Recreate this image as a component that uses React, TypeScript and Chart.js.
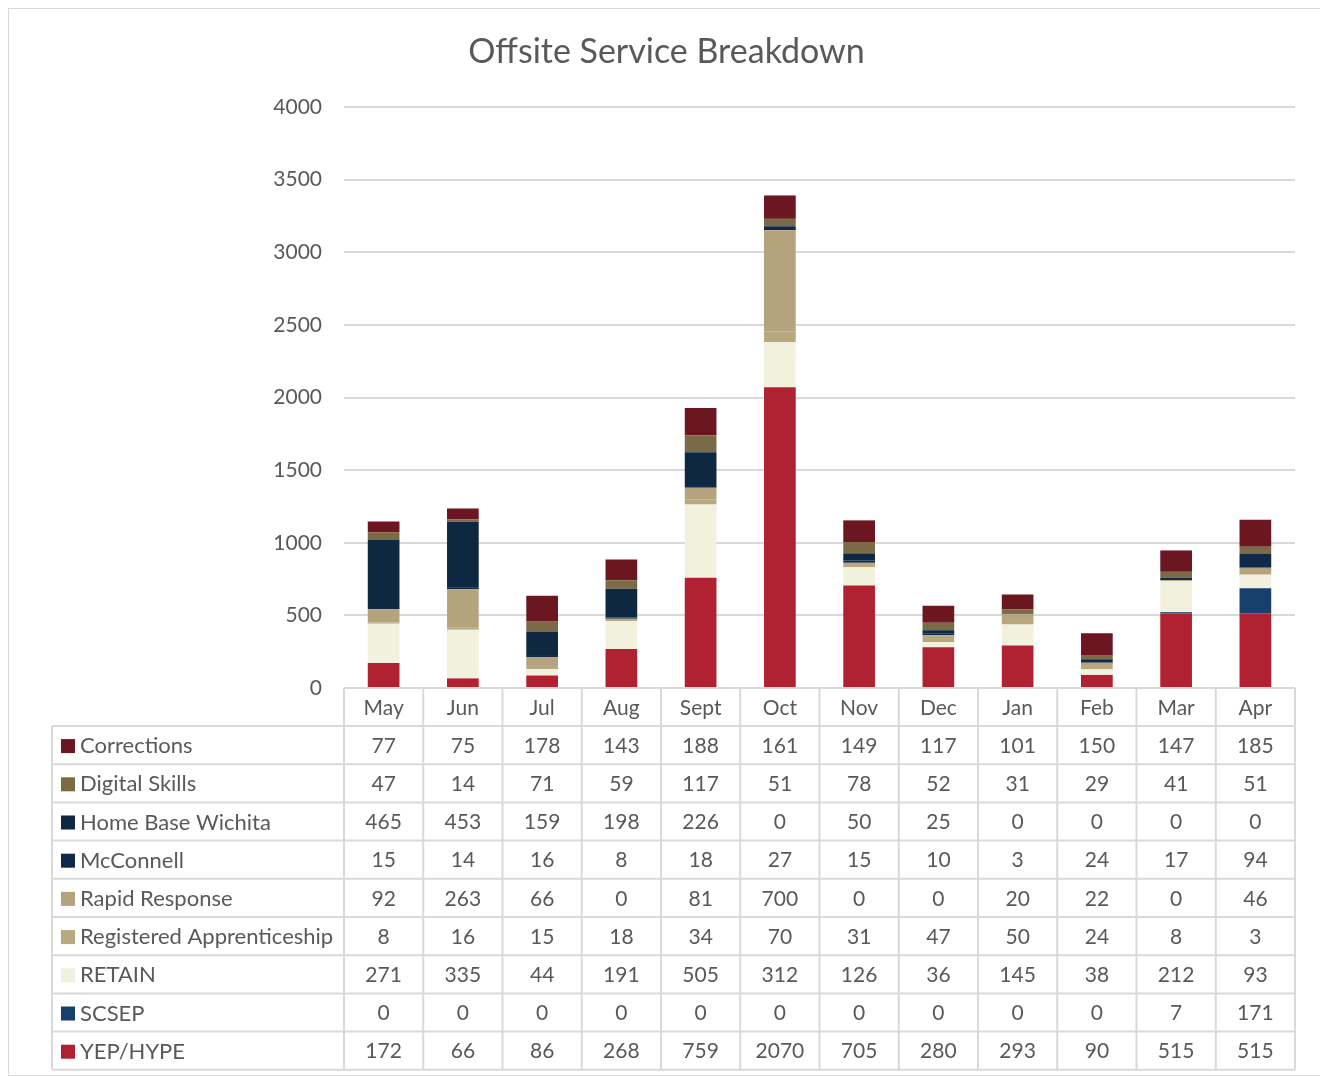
import React, { useEffect, useRef } from "react";
import { Chart, registerables } from "chart.js";

Chart.register(...registerables);

const months = ["May", "Jun", "Jul", "Aug", "Sept", "Oct", "Nov", "Dec", "Jan", "Feb", "Mar", "Apr"];

const corrections = [77, 75, 178, 143, 188, 161, 149, 117, 101, 150, 147, 185];
const digitalSkills = [47, 14, 71, 59, 117, 51, 78, 52, 31, 29, 41, 51];
const homeBaseWichita = [465, 453, 159, 198, 226, 0, 50, 25, 0, 0, 0, 0];
const mcConnell = [15, 14, 16, 8, 18, 27, 15, 10, 3, 24, 17, 94];
const rapidResponse = [92, 263, 66, 0, 81, 700, 0, 0, 20, 22, 0, 46];
const registeredApprenticeship = [8, 16, 15, 18, 34, 70, 31, 47, 50, 24, 8, 3];
const retain = [271, 335, 44, 191, 505, 312, 126, 36, 145, 38, 212, 93];
const scsep = [0, 0, 0, 0, 0, 0, 0, 0, 0, 0, 7, 171];
const yepHype = [172, 66, 86, 268, 759, 2070, 705, 280, 293, 90, 515, 515];

const yTicks = [0, 500, 1000, 1500, 2000, 2500, 3000, 3500, 4000];

// table order (top to bottom); stacking is bottom-up in reverse order
const seriesList = [
  { label: "Corrections", data: corrections, color: "#6B1620" },
  { label: "Digital Skills", data: digitalSkills, color: "#7A6A45" },
  { label: "Home Base Wichita", data: homeBaseWichita, color: "#0E2841" },
  { label: "McConnell", data: mcConnell, color: "#10294A" },
  { label: "Rapid Response", data: rapidResponse, color: "#B5A37E" },
  { label: "Registered Apprenticeship", data: registeredApprenticeship, color: "#B8A880" },
  { label: "RETAIN", data: retain, color: "#F2F1DD" },
  { label: "SCSEP", data: scsep, color: "#17406D" },
  { label: "YEP/HYPE", data: yepHype, color: "#B02232" },
];

const FONT = "Lato, 'Open Sans', sans-serif";
const TEXT = "#595959";
const LINE = "#D9D9D9";

const tablePlugin = {
  id: "dataTable",
  afterDraw(chart: any) {
    const ctx = chart.ctx;
    const area = chart.chartArea;
    const xs = chart.scales.x;
    const n = months.length;
    const colW = (area.right - area.left) / n;
    const headerTop = area.bottom;
    const headerH = 38;
    const rowH = 38.2;
    const tableLeft = 43;
    const rowsTop = headerTop + headerH;
    const bottom = rowsTop + rowH * seriesList.length;

    ctx.save();
    // title
    ctx.fillStyle = TEXT;
    ctx.font = `34px ${FONT}`;
    ctx.textAlign = "center";
    ctx.textBaseline = "middle";
    ctx.fillText("Offsite Service Breakdown", chart.width / 2, 43);

    // grid lines
    ctx.strokeStyle = LINE;
    ctx.lineWidth = 2;
    ctx.beginPath();
    ctx.moveTo(area.left, headerTop);
    ctx.lineTo(area.right, headerTop);
    for (let r = 0; r <= seriesList.length; r++) {
      const y = rowsTop + r * rowH;
      ctx.moveTo(tableLeft, y);
      ctx.lineTo(area.right, y);
    }
    ctx.moveTo(tableLeft, rowsTop);
    ctx.lineTo(tableLeft, bottom);
    for (let i = 0; i <= n; i++) {
      const x = area.left + i * colW;
      ctx.moveTo(x, headerTop);
      ctx.lineTo(x, bottom);
    }
    ctx.stroke();

    // header labels
    ctx.font = `21px ${FONT}`;
    ctx.fillStyle = TEXT;
    ctx.textAlign = "center";
    ctx.textBaseline = "middle";
    months.forEach((m, i) => {
      ctx.fillText(m, xs.getPixelForValue(i), headerTop + headerH / 2 + 1);
    });

    // rows
    seriesList.forEach((s, r) => {
      const cy = rowsTop + r * rowH + rowH / 2 + 1;
      ctx.fillStyle = s.color;
      ctx.fillRect(tableLeft + 9, cy - 7, 14, 14);
      ctx.fillStyle = TEXT;
      ctx.textAlign = "left";
      ctx.font = `22px ${FONT}`;
      ctx.fillText(s.label, tableLeft + 28, cy);
      ctx.textAlign = "center";
      ctx.font = `21px ${FONT}`;
      s.data.forEach((v, i) => {
        ctx.fillText(String(v), xs.getPixelForValue(i), cy);
      });
    });
    ctx.restore();
  },
};

export default function App() {
  const ref = useRef<HTMLCanvasElement | null>(null);

  useEffect(() => {
    if (!ref.current) return;
    const datasets = [...seriesList].reverse().map((s) => ({
      label: s.label,
      data: s.data,
      backgroundColor: s.color,
      borderWidth: 0,
      barPercentage: 0.4,
      categoryPercentage: 1,
    }));
    const chart = new Chart(ref.current, {
      type: "bar",
      data: { labels: months, datasets },
      options: {
        responsive: false,
        animation: false,
        layout: { padding: { left: 0, right: 29, top: 98, bottom: 386 } },
        plugins: {
          legend: { display: false },
          title: { display: false },
          tooltip: { enabled: false },
        },
        scales: {
          x: {
            stacked: true,
            display: false,
          },
          y: {
            stacked: true,
            min: 0,
            max: 4000,
            afterFit: (s: any) => {
              s.width = 335;
            },
            afterBuildTicks: (s: any) => {
              s.ticks = yTicks.map((v) => ({ value: v }));
            },
            border: { display: false },
            grid: { color: LINE, lineWidth: 2, drawTicks: false },
            ticks: {
              color: TEXT,
              font: { family: FONT, size: 21 },
              padding: 22,
              callback: (v: any) => String(v),
            },
          },
        },
      },
      plugins: [tablePlugin],
    });
    return () => chart.destroy();
  }, []);

  return (
    <div
      style={{
        width: 1318,
        height: 1068,
        border: "1.5px solid #D9D9D9",
        boxSizing: "border-box",
        background: "#fff",
      }}
    >
      <canvas ref={ref} width={1315} height={1065} style={{ display: "block" }} />
    </div>
  );
}
